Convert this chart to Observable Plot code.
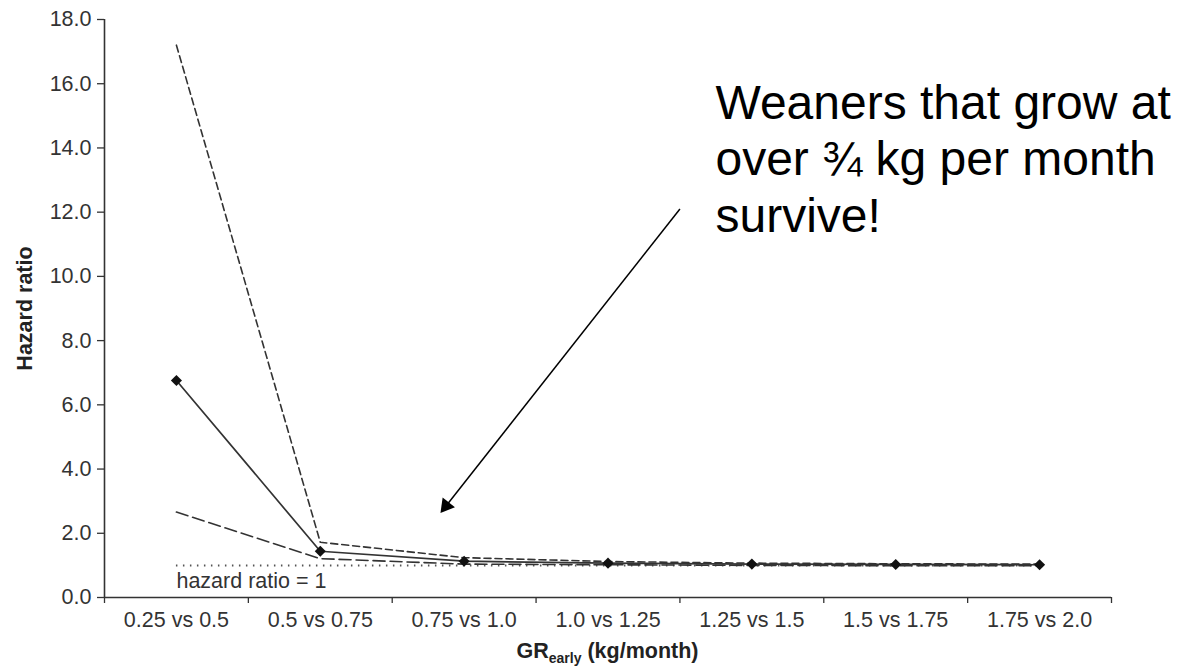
<!DOCTYPE html>
<html>
<head>
<meta charset="utf-8">
<script src="https://cdn.jsdelivr.net/npm/d3@7"></script>
<script src="https://cdn.jsdelivr.net/npm/@observablehq/plot@0.6"></script>
<style>
  html, body { margin: 0; padding: 0; background: white; }
</style>
</head>
<body>
<div id="chart"></div>
<script>
// ---- data ----
const categories = ["0.25 vs 0.5", "0.5 vs 0.75", "0.75 vs 1.0", "1.0 vs 1.25", "1.25 vs 1.5", "1.5 vs 1.75", "1.75 vs 2.0"];
const hazard = [6.76, 1.44, 1.13, 1.07, 1.04, 1.03, 1.02];
const upperCI = [17.2, 1.72, 1.24, 1.12, 1.07, 1.05, 1.04];
const lowerCI = [2.66, 1.21, 1.04, 1.02, 1.0, 0.99, 0.99];
const yTicks = [0, 2, 4, 6, 8, 10, 12, 14, 16, 18];
const refValue = 1;
const refLabel = "hazard ratio = 1";
const yLabel = "Hazard ratio";
const noteText = "Weaners that grow at\nover ¾ kg per month\nsurvive!";
const notePos = {x: 4.247, y: 16.16};
const arrowSeg = {x1: 4.0, y1: 12.1, x2: 2.374, y2: 2.85};
const arrowHead = {x: 2.374, y: 2.85};

const rows = categories.map((c, i) => ({pos: i + 0.5, label: c, hr: hazard[i], hi: upperCI[i], lo: lowerCI[i]}));
const font = "'Liberation Sans', Arial, Helvetica, sans-serif";
const fs = 21.5;

const plot = Plot.plot({
  width: 1180,
  height: 668,
  marginLeft: 104,
  marginRight: 69,
  marginTop: 19,
  marginBottom: 71,
  style: {fontFamily: font, fontSize: fs + "px", color: "#333", background: "white"},
  x: {type: "linear", domain: [0, categories.length], axis: null},
  y: {domain: [0, 18], axis: null},
  marks: [
    Plot.axisY(yTicks, {tickSize: 7, tickPadding: 6, tickFormat: d => d.toFixed(1), label: null, fontSize: fs, stroke: "#333", strokeWidth: 1.3}),
    Plot.axisX(d3.range(0, categories.length + 1), {tickSize: 6, tickFormat: () => "", label: null, stroke: "#333", strokeWidth: 1.3}),
    Plot.axisX(rows.map(d => d.pos), {tickSize: 0, tickPadding: 14, tickFormat: d => categories[Math.floor(d)], label: null, fontSize: fs}),
    Plot.ruleX([0], {stroke: "#333", strokeWidth: 1.6}),
    Plot.ruleY([0], {stroke: "#333", strokeWidth: 1.6}),
    Plot.ruleY([refValue], {x1: rows[0].pos, x2: rows[rows.length - 1].pos, stroke: "#555", strokeWidth: 2, strokeDasharray: "1.5,5.5"}),
    Plot.text([refLabel], {x: rows[0].pos, y: refValue, dy: 16, textAnchor: "start", fontSize: fs, fill: "#333"}),
    Plot.line(rows, {x: "pos", y: "hi", stroke: "#333", strokeWidth: 1.6, strokeDasharray: "7,4"}),
    Plot.line(rows, {x: "pos", y: "lo", stroke: "#333", strokeWidth: 1.6, strokeDasharray: "12,5"}),
    Plot.line(rows, {x: "pos", y: "hr", stroke: "#333", strokeWidth: 1.7}),
    Plot.dot(rows, {x: "pos", y: "hr", symbol: "diamond2", r: 5, fill: "#111", stroke: "none"}),
    Plot.text([yLabel], {frameAnchor: "left", textAnchor: "middle", dx: -79, rotate: -90, fontSize: fs, fontWeight: "bold", fill: "#222"}),
    Plot.link([arrowSeg], {x1: "x1", y1: "y1", x2: "x2", y2: "y2", stroke: "black", strokeWidth: 1.5}),
    Plot.dot([arrowHead], {x: "x", y: "y", symbol: "triangle", r: 5.8, fill: "black", stroke: "none", rotate: 218}),
    Plot.text([noteText], {x: notePos.x, y: notePos.y, textAnchor: "start", lineAnchor: "top", fontSize: 48, lineHeight: 1.18, fill: "black"})
  ]
});

document.getElementById("chart").appendChild(plot);

// x-axis title with subscript
const xs = plot.scale("x");
const svg = d3.select(plot.tagName.toLowerCase() === "svg" ? plot : plot.querySelector("svg"));
const t = svg.append("text")
  .attr("x", xs.apply(categories.length / 2))
  .attr("y", 658)
  .attr("text-anchor", "middle")
  .attr("font-family", font)
  .attr("font-weight", "bold")
  .attr("font-size", fs)
  .attr("fill", "#222");
t.append("tspan").text("GR");
t.append("tspan").attr("font-size", 14).attr("dy", 5).text("early");
t.append("tspan").attr("dy", -5).text(" (kg/month)");
</script>
</body>
</html>
